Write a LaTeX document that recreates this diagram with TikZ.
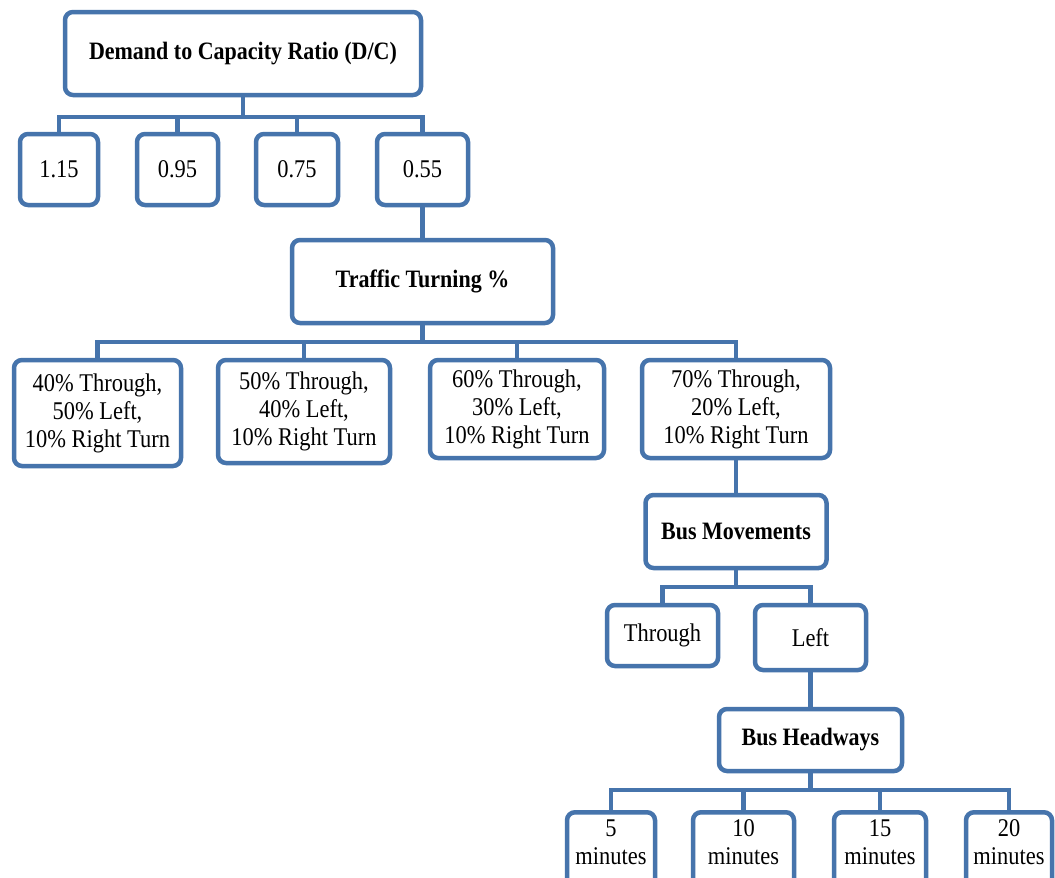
\documentclass[tikz,border=0pt]{standalone}
\usepackage{fontspec}
\setmainfont{Liberation Serif}[FakeStretch=0.88]
\definecolor{boxblue}{RGB}{70,116,172}
\begin{document}
\begin{tikzpicture}[x=1pt,y=-1pt,
  txt/.style={font=\fontsize{25.5}{28}\selectfont, align=center, inner sep=0pt, text=black},
  box/.style={txt, draw=boxblue, line width=4.5pt, rounded corners=8pt, fill=white},
  hdr/.style={box, font=\fontsize{25}{28}\selectfont\bfseries},
  conn/.style={draw=boxblue, line width=4.5pt}]
\clip (0,0) rectangle (1055,878);
\fill[white] (0,0) rectangle (1055,878);

% level 1
\node[hdr, minimum width=356, minimum height=83] (dc) at (243,53.5) {Demand to Capacity Ratio (D/C)};
% level 2
\node[box, minimum width=78, minimum height=71] (v1) at (59,169.5) {1.15};
\node[box, minimum width=81, minimum height=71] (v2) at (177.5,169.5) {0.95};
\node[box, minimum width=82, minimum height=71] (v3) at (297,169.5) {0.75};
\node[box, minimum width=91, minimum height=71] (v4) at (422.5,169.5) {0.55};
% level 3
\node[hdr, minimum width=261, minimum height=83] (tt) at (422.5,281.5) {Traffic Turning \%};
% level 4
\node[box, minimum width=167, minimum height=106] (r1) at (97.5,413) {40\% Through,\\50\% Left,\\10\% Right Turn};
\node[box, minimum width=172, minimum height=103] (r2) at (304,411.5) {50\% Through,\\40\% Left,\\10\% Right Turn};
\node[box, minimum width=174, minimum height=98] (r3) at (517,409) {60\% Through,\\30\% Left,\\10\% Right Turn};
\node[box, minimum width=188, minimum height=98] (r4) at (736,409) {70\% Through,\\20\% Left,\\10\% Right Turn};
% level 5
\node[hdr, minimum width=181, minimum height=73] (bm) at (736,531.5) {Bus Movements};
\node[box, minimum width=111, minimum height=61] (th) at (662.5,635.5) {Through};
\node[box, minimum width=111, minimum height=65] (lf) at (810.5,637.5) {Left};
\node[hdr, minimum width=183, minimum height=62] (bh) at (810.5,740) {Bus Headways};
% level 6
\node[box, minimum width=88, minimum height=100, anchor=north] (h1) at (611,810) {};
\node[box, minimum width=101, minimum height=100, anchor=north] (h2) at (743.5,810) {};
\node[box, minimum width=92, minimum height=100, anchor=north] (h3) at (880,810) {};
\node[box, minimum width=86, minimum height=100, anchor=north] (h4) at (1009,810) {};
\node[txt] (t1) at (611,842) {5\\minutes};
\node[txt] (t2) at (743.5,842) {10\\minutes};
\node[txt] (t3) at (880,842) {15\\minutes};
\node[txt] (t4) at (1009,842) {20\\minutes};

% bus coordinates
\coordinate (b1) at (243,117);
\coordinate (b2) at (422.5,342);
\coordinate (b3) at (736,587);
\coordinate (b4) at (810.5,790);

% connectors
\draw[conn] (dc.south) -- (b1);
\draw[conn] (b1) -| (v1.north);
\draw[conn] (b1) -| (v2.north);
\draw[conn] (b1) -| (v3.north);
\draw[conn] (b1) -| (v4.north);
\draw[conn] (v4.south) -- (tt.north);
\draw[conn] (tt.south) -- (b2);
\draw[conn] (b2) -| (r1.north);
\draw[conn] (b2) -| (r2.north);
\draw[conn] (b2) -| (r3.north);
\draw[conn] (b2) -| (r4.north);
\draw[conn] (r4.south) -- (bm.north);
\draw[conn] (bm.south) -- (b3);
\draw[conn] (b3) -| (th.north);
\draw[conn] (b3) -| (lf.north);
\draw[conn] (lf.south) -- (bh.north);
\draw[conn] (bh.south) -- (b4);
\draw[conn] (b4) -| (h1.north);
\draw[conn] (b4) -| (h2.north);
\draw[conn] (b4) -| (h3.north);
\draw[conn] (b4) -| (h4.north);
\end{tikzpicture}
\end{document}
